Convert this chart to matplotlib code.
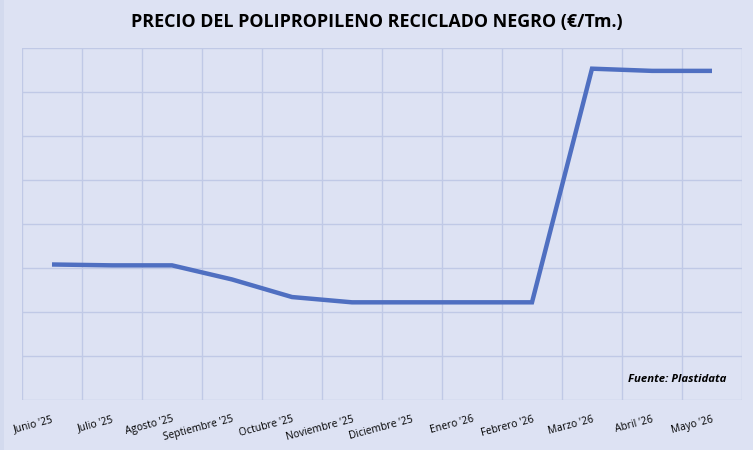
import matplotlib
matplotlib.use("Agg")
import matplotlib.pyplot as plt

months = ["Junio '25", "Julio '25", "Agosto '25", "Septiembre '25", "Octubre '25",
          "Noviembre '25", "Diciembre '25", "Enero '26", "Febrero '26",
          "Marzo '26", "Abril '26", "Mayo '26"]
prices = [308, 306, 306, 274, 234, 222, 222, 222, 222, 753, 748, 748]
title = "PRECIO DEL POLIPROPILENO RECICLADO NEGRO (€/Tm.)"
source = "Fuente: Plastidata"

bg = "#dde2f3"
grid = "#c0c9e6"
line = "#4f6fc1"

plt.rcParams['font.family'] = ['Open Sans', 'DejaVu Sans']

fig = plt.figure(figsize=(7.53, 4.5), dpi=100, facecolor=bg)
ax = fig.add_axes([22/753, 1 - 400/450, 720/753, 352/450])
ax.set_facecolor(bg)

x = list(range(len(months)))
ax.plot(x, prices, color=line, lw=3.2, solid_capstyle='butt', solid_joinstyle='miter', zorder=3)

ax.set_xlim(-0.5, len(months) - 0.5)
ax.set_ylim(0, 800)
ax.set_yticks(range(0, 801, 100))
ax.set_yticklabels([])
ax.set_xticks([i + 0.5 for i in range(-1, len(months))], minor=False)
ax.set_xticklabels([])
ax.tick_params(length=0)
ax.grid(True, color=grid, lw=1.0)
for s in ax.spines.values():
    s.set_visible(False)

for i, m in enumerate(months):
    ax.annotate(m, xy=(i, 0), xycoords='data', xytext=(0, -10), textcoords='offset points',
                rotation=15, ha='right', va='top', rotation_mode='anchor',
                fontsize=7.4, color='black')

fig.text(377/753, 1 - 22/450, title, ha='center', va='center', fontsize=12.9,
         fontweight='bold', color='black')
fig.text(726/753, 1 - 380/450, source, ha='right', va='center', fontsize=8.2,
         fontweight='bold', fontstyle='italic', color='black')

# subtle left border strip
fig.patches.append(plt.Rectangle((0, 0), 4/753, 1, transform=fig.transFigure,
                                 facecolor="#d3daee", edgecolor='none'))

fig.savefig("out.png", dpi=100, facecolor=bg)
